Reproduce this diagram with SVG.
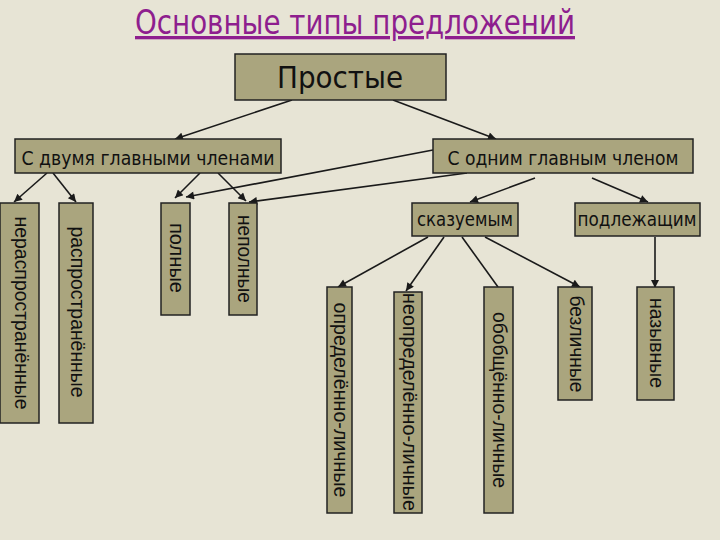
<svg xmlns="http://www.w3.org/2000/svg" width="720" height="540" viewBox="0 0 720 540">
<defs>
<marker id="ah" viewBox="0 0 10 10" refX="10" refY="5" markerWidth="10" markerHeight="8" markerUnits="userSpaceOnUse" orient="auto">
<path d="M0,0 L10,5 L0,10 z" fill="#1a1a1a"/>
</marker>
<style>
.box{fill:#aaa57e;stroke:#222;stroke-width:1.5}
.h{font-family:"DejaVu Sans","Liberation Sans",sans-serif;fill:#111;text-anchor:middle}
.v{font-family:"Liberation Sans","DejaVu Sans",sans-serif;font-size:21px;fill:#111;text-anchor:middle}
.c line{stroke:#1a1a1a;stroke-width:1.6}
.c .a{marker-end:url(#ah)}
</style>
</defs>
<rect width="720" height="540" fill="#e7e4d5"/>
<text x="355" y="34" font-family="DejaVu Sans,Liberation Sans,sans-serif" font-size="33" fill="#8e1e8e" text-anchor="middle" text-decoration="underline" textLength="440" lengthAdjust="spacingAndGlyphs">Основные типы предложений</text>

<g class="c">
<line class="a" x1="292" y1="100" x2="175" y2="139"/>
<line class="a" x1="393" y1="100" x2="496" y2="139"/>
<line class="a" x1="47" y1="173" x2="14" y2="202"/>
<line class="a" x1="53" y1="173" x2="76" y2="202"/>
<line class="a" x1="200" y1="173" x2="175" y2="198"/>
<line class="a" x1="218" y1="173" x2="246" y2="201"/>
<line class="a" x1="433" y1="150" x2="186" y2="197"/>
<line class="a" x1="467" y1="173" x2="249" y2="202"/>
<line class="a" x1="535" y1="178" x2="470" y2="202"/>
<line class="a" x1="592" y1="178" x2="648" y2="202"/>
<line class="a" x1="428" y1="237" x2="338" y2="287"/>
<line class="a" x1="444" y1="237" x2="406" y2="291"/>
<line x1="462" y1="237" x2="498" y2="287"/>
<line class="a" x1="485" y1="237" x2="580" y2="287"/>
<line class="a" x1="655" y1="237" x2="655" y2="288"/>
</g>

<g id="prostye">
<rect class="box" x="235" y="54" width="211" height="46"/>
<text class="h" x="340" y="88" font-size="31" textLength="126" lengthAdjust="spacingAndGlyphs">Простые</text>
</g>
<g id="dva">
<rect class="box" x="15" y="139" width="266" height="34"/>
<text class="h" x="148" y="165" font-size="19" textLength="253" lengthAdjust="spacingAndGlyphs">С двумя главными членами</text>
</g>
<g id="odin">
<rect class="box" x="433" y="139" width="260" height="34"/>
<text class="h" x="563" y="165" font-size="19" textLength="231" lengthAdjust="spacingAndGlyphs">С одним главным членом</text>
</g>
<g id="skazuemym">
<rect class="box" x="412" y="203" width="106" height="33"/>
<text class="h" x="465" y="226" font-size="20" textLength="96" lengthAdjust="spacingAndGlyphs">сказуемым</text>
</g>
<g id="podlezhaschim">
<rect class="box" x="575" y="203" width="125" height="33"/>
<text class="h" x="637" y="226" font-size="20" textLength="119" lengthAdjust="spacingAndGlyphs">подлежащим</text>
</g>

<g id="nerasprostr">
<rect class="box" x="0" y="203" width="39" height="220"/>
<text class="v" transform="translate(20,313) rotate(90)" y="5.5" textLength="193" lengthAdjust="spacingAndGlyphs">нераспространённые</text>
</g>
<g id="rasprostr">
<rect class="box" x="59" y="203" width="34" height="220"/>
<text class="v" transform="translate(76,312) rotate(90)" y="5.5" textLength="171" lengthAdjust="spacingAndGlyphs">распространённые</text>
</g>
<g id="polnye">
<rect class="box" x="161" y="203" width="29" height="112"/>
<text class="v" transform="translate(175.5,258) rotate(90)" y="5.5" textLength="70" lengthAdjust="spacingAndGlyphs">полные</text>
</g>
<g id="nepolnye">
<rect class="box" x="229" y="203" width="28" height="112"/>
<text class="v" transform="translate(243,259) rotate(90)" y="5.5" textLength="88" lengthAdjust="spacingAndGlyphs">неполные</text>
</g>
<g id="opredelenno">
<rect class="box" x="327" y="287" width="25" height="226"/>
<text class="v" transform="translate(339.5,400) rotate(90)" y="5.5" textLength="195" lengthAdjust="spacingAndGlyphs">определённо-личные</text>
</g>
<g id="neopredelenno">
<rect class="box" x="394" y="292" width="28" height="221"/>
<text class="v" transform="translate(408,402) rotate(90)" y="5.5" textLength="218" lengthAdjust="spacingAndGlyphs">неопределённо-личные</text>
</g>
<g id="obobschenno">
<rect class="box" x="484" y="287" width="29" height="226"/>
<text class="v" transform="translate(498.5,400) rotate(90)" y="5.5" textLength="176" lengthAdjust="spacingAndGlyphs">обобщённо-личные</text>
</g>
<g id="bezlichnye">
<rect class="box" x="558" y="287" width="34" height="113"/>
<text class="v" transform="translate(575,344) rotate(90)" y="5.5" textLength="97" lengthAdjust="spacingAndGlyphs">безличные</text>
</g>
<g id="nazyvnye">
<rect class="box" x="637" y="287" width="37" height="113"/>
<text class="v" transform="translate(655.5,343) rotate(90)" y="5.5" textLength="90" lengthAdjust="spacingAndGlyphs">назывные</text>
</g>
</svg>
